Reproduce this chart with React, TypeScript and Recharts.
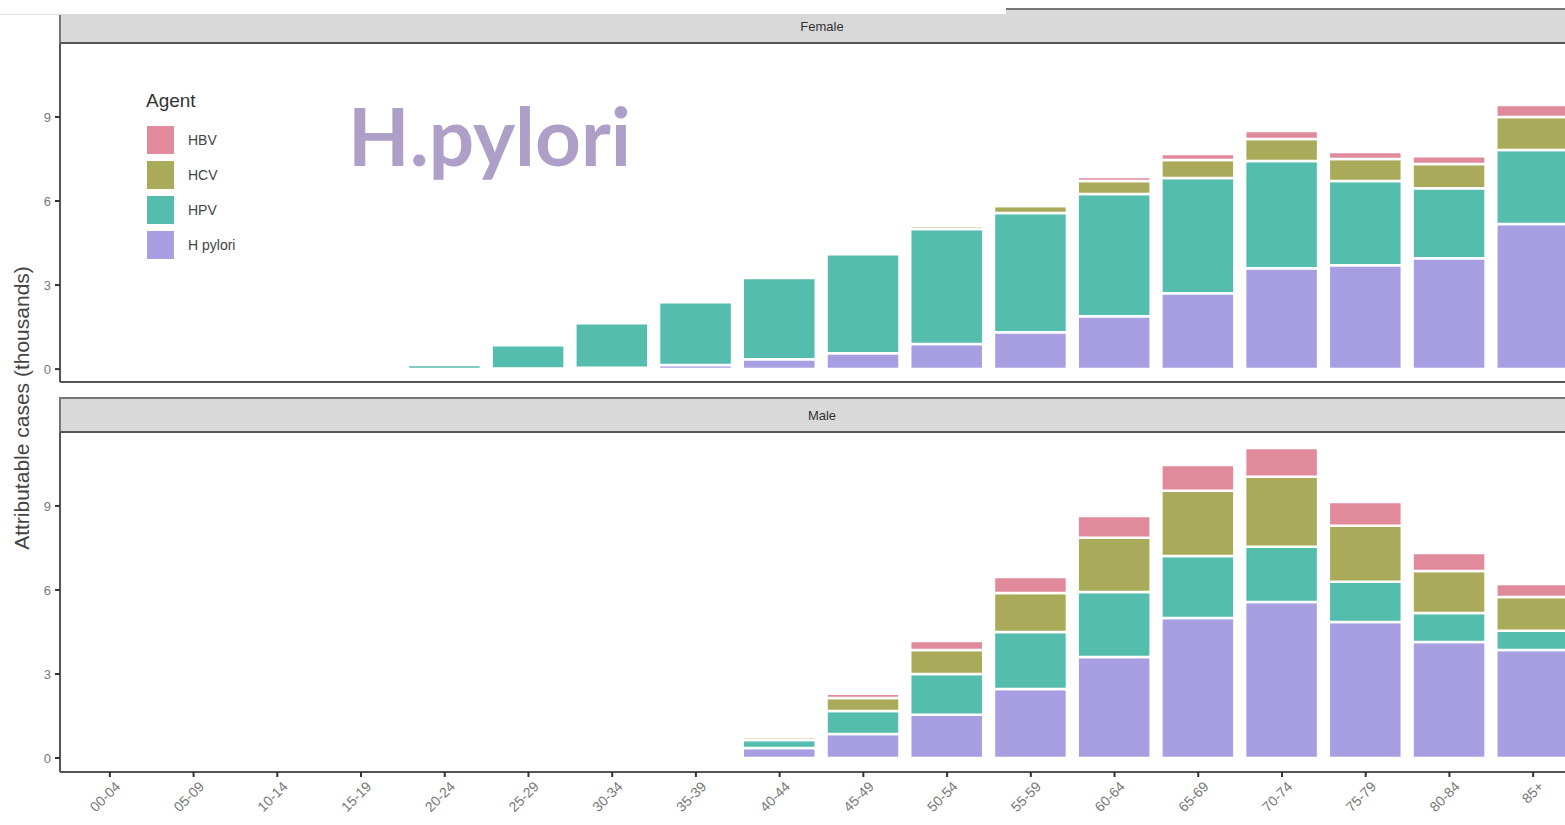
import { BarChart, Bar, XAxis, YAxis } from "recharts";

// age groups (shared by both panels)
const ageGroups = [
  "00-04", "05-09", "10-14", "15-19", "20-24", "25-29", "30-34", "35-39", "40-44",
  "45-49", "50-54", "55-59", "60-64", "65-69", "70-74", "75-79", "80-84", "85+",
];

// Female, thousands of attributable cases
const femaleHpylori = [0, 0, 0, 0, 0, 0.02, 0.05, 0.15, 0.35, 0.57, 0.9, 1.32, 1.89, 2.71, 3.6, 3.71, 3.96, 5.18];
const femaleHpv = [0, 0, 0, 0, 0.15, 0.83, 1.59, 2.24, 2.9, 3.53, 4.1, 4.25, 4.36, 4.11, 3.83, 3.0, 2.5, 2.64];
const femaleHcv = [0, 0, 0, 0, 0, 0, 0, 0, 0, 0, 0.11, 0.25, 0.46, 0.64, 0.78, 0.79, 0.86, 1.18];
const femaleHbv = [0, 0, 0, 0, 0, 0, 0, 0, 0, 0, 0.03, 0.08, 0.15, 0.22, 0.29, 0.25, 0.28, 0.43];

// Male, thousands of attributable cases
const maleHpylori = [0, 0, 0, 0, 0, 0, 0, 0.05, 0.36, 0.86, 1.54, 2.46, 3.61, 5.0, 5.57, 4.86, 4.14, 3.86];
const maleHpv = [0, 0, 0, 0, 0, 0, 0, 0.03, 0.28, 0.82, 1.46, 2.04, 2.32, 2.21, 1.97, 1.43, 1.04, 0.68];
const maleHcv = [0, 0, 0, 0, 0, 0, 0, 0, 0.11, 0.46, 0.86, 1.39, 1.93, 2.33, 2.5, 2.0, 1.5, 1.21];
const maleHbv = [0, 0, 0, 0, 0, 0, 0, 0, 0.07, 0.15, 0.32, 0.57, 0.78, 0.92, 1.03, 0.85, 0.64, 0.46];

const yTicks = [0, 3, 6, 9];

// stacking order: bottom to top
const agents = [
  { key: "hpylori", name: "H pylori", color: "#a89fe3" },
  { key: "hpv", name: "HPV", color: "#54bdad" },
  { key: "hcv", name: "HCV", color: "#a9ab5a" },
  { key: "hbv", name: "HBV", color: "#e08a9c" },
];

const femaleData = ageGroups.map((age, i) => ({
  age,
  hpylori: femaleHpylori[i],
  hpv: femaleHpv[i],
  hcv: femaleHcv[i],
  hbv: femaleHbv[i],
}));

const maleData = ageGroups.map((age, i) => ({
  age,
  hpylori: maleHpylori[i],
  hpv: maleHpv[i],
  hcv: maleHcv[i],
  hbv: maleHbv[i],
}));

const FONT = "'Liberation Sans', Arial, sans-serif";
const CHART_W = 1600;
const AXIS_COLOR = "#555";

function AgeTick(props: any) {
  const { x, y, payload } = props;
  return (
    <g transform={`translate(${x},${y})`}>
      <text
        x={0}
        y={0}
        dy={14}
        dx={2}
        transform="rotate(-45)"
        textAnchor="end"
        fill="#777"
        fontSize={14}
        fontFamily={FONT}
      >
        {payload.value}
      </text>
    </g>
  );
}

function Panel({ data, height, xHeight, showTicks, domain }: any) {
  return (
    <BarChart
      width={CHART_W}
      height={height}
      data={data}
      margin={{ top: 0, right: CHART_W - 1583, left: 0, bottom: 0 }}
      barSize={73}
    >
      <XAxis
        dataKey="age"
        height={xHeight}
        padding={{ left: 8, right: 8 }}
        axisLine={{ stroke: AXIS_COLOR, strokeWidth: 2 }}
        tickLine={showTicks ? { stroke: "#333", strokeWidth: 2 } : false}
        tickSize={5}
        tick={showTicks ? <AgeTick /> : false}
        interval={0}
      />
      <YAxis
        type="number"
        width={60}
        domain={domain}
        allowDataOverflow
        ticks={yTicks}
        tickSize={5}
        tickMargin={4}
        axisLine={{ stroke: AXIS_COLOR, strokeWidth: 2 }}
        tickLine={{ stroke: "#333", strokeWidth: 2 }}
        tick={{ fill: "#777", fontSize: 13, fontFamily: FONT }}
      />
      {agents.map((a) => (
        <Bar
          key={a.key}
          dataKey={a.key}
          name={a.name}
          stackId="agents"
          fill={a.color}
          stroke="#ffffff"
          strokeWidth={2.5}
          isAnimationActive={false}
        />
      ))}
    </BarChart>
  );
}

function Strip({ top, height, label }: { top: number; height: number; label: string }) {
  return (
    <div
      style={{
        position: "absolute",
        left: 59,
        top,
        width: 1600,
        height,
        boxSizing: "border-box",
        background: "#d9d9d9",
        borderTop: "2px solid #777",
        borderBottom: "2px solid #555",
        borderLeft: "2px solid #777",
        fontFamily: FONT,
        fontSize: 13,
        color: "#333",
      }}
    >
      <div style={{ position: "absolute", left: 0, width: 1522, top: 0, bottom: 0, display: "flex", alignItems: "center", justifyContent: "center" }}>
        {label}
      </div>
    </div>
  );
}

export default function App() {
  const legendItems = [...agents].reverse();
  return (
    <div
      style={{
        position: "absolute",
        left: 0,
        top: 0,
        width: 1565,
        height: 825,
        overflow: "hidden",
        background: "#ffffff",
        fontFamily: FONT,
      }}
    >
      <Strip top={8} height={36} label="Female" />
      {/* cropped-off corner of the screenshot */}
      <div style={{ position: "absolute", left: 0, top: 0, width: 1006, height: 14, background: "#fff", borderBottom: "1px solid #ddd" }} />

      <div style={{ position: "absolute", left: 0, top: 43 }}>
        <Panel data={femaleData} height={345} xHeight={6} showTicks={false} domain={[-0.46, 11.64]} />
      </div>

      <Strip top={397} height={36} label="Male" />

      <div style={{ position: "absolute", left: 0, top: 432 }}>
        <Panel data={maleData} height={400} xHeight={60} showTicks domain={[-0.5, 11.64]} />
      </div>

      {/* y axis title */}
      <div
        style={{
          position: "absolute",
          left: 22,
          top: 408,
          transform: "translate(-50%, -50%) rotate(-90deg)",
          whiteSpace: "nowrap",
          fontSize: 21,
          color: "#444",
          fontFamily: FONT,
        }}
      >
        Attributable cases (thousands)
      </div>

      {/* legend */}
      <div style={{ position: "absolute", left: 146, top: 90, fontFamily: FONT }}>
        <div style={{ fontSize: 19, color: "#333", marginBottom: 10 }}>Agent</div>
        {legendItems.map((a) => (
          <div key={a.key} style={{ display: "flex", alignItems: "center", height: 35 }}>
            <div style={{ width: 27, height: 28, background: a.color, border: "1px solid #fff" }} />
            <span style={{ marginLeft: 13, fontSize: 14, color: "#444" }}>{a.name}</span>
          </div>
        ))}
      </div>

      {/* annotation */}
      <div
        style={{
          position: "absolute",
          left: 348,
          top: 95,
          fontFamily: "Lato, 'Open Sans', sans-serif",
          fontWeight: 700,
          fontSize: 80,
          lineHeight: 1,
          color: "#ae9fc8",
        }}
      >
        H.pylori
      </div>
    </div>
  );
}
